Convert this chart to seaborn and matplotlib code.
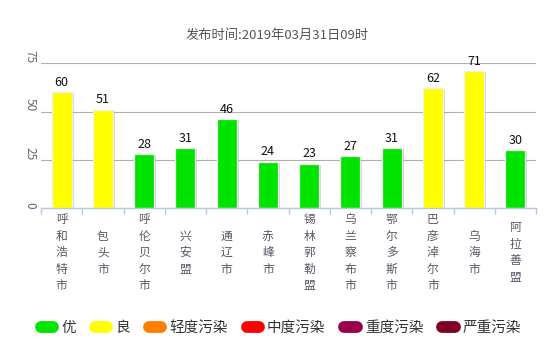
import matplotlib
matplotlib.use("Agg")
import matplotlib.pyplot as plt
import matplotlib.patheffects as pe
from matplotlib.lines import Line2D
import seaborn as sns
import pandas as pd

cities = ['呼和浩特市', '包头市', '呼伦贝尔市', '兴安盟', '通辽市', '赤峰市',
          '锡林郭勒盟', '乌兰察布市', '鄂尔多斯市', '巴彦淖尔市', '乌海市', '阿拉善盟']
aqi = [60, 51, 28, 31, 46, 24, 23, 27, 31, 62, 71, 30]
levels = ['良', '良', '优', '优', '优', '优', '优', '优', '优', '良', '良', '优']
legend_names = ['优', '良', '轻度污染', '中度污染', '重度污染', '严重污染']
legend_colors = ['#00e400', '#ffff00', '#ff7e00', '#ff0000', '#99004c', '#7e0023']
y_ticks = [0, 25, 50, 75]
title = '发布时间:2019年03月31日09时'

sns.set_theme(style='white')
plt.rcParams['font.family'] = ['Noto Sans CJK SC', 'DejaVu Sans']

level_color = dict(zip(legend_names, legend_colors))
df = pd.DataFrame({'city': cities, 'aqi': aqi, 'level': levels})

fig = plt.figure(figsize=(5.52, 3.49), dpi=100)
ax = fig.add_axes([41 / 552, 1 - 208.3 / 349, (536 - 41) / 552, 145 / 349])

sns.barplot(data=df, x='city', y='aqi', hue='level', palette=level_color,
            dodge=False, width=0.48, legend=False, ax=ax, saturation=1,
            edgecolor='#f0f0f0', linewidth=0.9, zorder=3)

for p in ax.patches:
    p.set_path_effects([pe.SimplePatchShadow(offset=(1.6, -0.8), shadow_rgbFace='#888888', alpha=0.35),
                        pe.Normal()])

for c in ax.containers:
    ax.bar_label(c, fmt='%d', padding=2.5, fontsize=9, color='#111111')

ax.set_ylim(0, 75)
ax.set_xlim(-0.5, len(cities) - 0.5)
ax.set_yticks(y_ticks)
ax.set_yticklabels([str(v) for v in y_ticks])
ax.grid(axis='y', color='#b0b0b0', linewidth=0.8, zorder=0)
ax.grid(axis='x', visible=False)
for s in ['left', 'right', 'top']:
    ax.spines[s].set_visible(False)
ax.spines['bottom'].set_color('#b7c7dc')
ax.spines['bottom'].set_linewidth(1)
ax.spines['bottom'].set_zorder(4)

ax.tick_params(axis='y', length=0, pad=3, labelsize=8.5, labelcolor='#666666')
for lbl in ax.get_yticklabels():
    lbl.set_rotation(-90)
    lbl.set_va('bottom')
    lbl.set_ha('right')

ax.set_xticks(range(len(cities)))
ax.set_xticklabels(['\n'.join(c) for c in cities])
ax.set_xticks([i - 0.5 for i in range(len(cities) + 1)], minor=True)
ax.tick_params(axis='x', which='major', length=0, pad=32, labelsize=8.5, labelcolor='#5a5566')
ax.tick_params(axis='x', which='minor', length=4, width=1, color='#b7c7dc', bottom=True)
for lbl in ax.get_xticklabels():
    lbl.set_va('center')
    lbl.set_linespacing(1.35)
ax.set_xlabel('')
ax.set_ylabel('')

fig.text(0.502, 1 - 35 / 349, title, ha='center', va='center', fontsize=9.5, color='#555555')

handles = [Line2D([0, 1], [0, 0], color=c, lw=8.5, solid_capstyle='round') for c in legend_colors]
fig.legend(handles, legend_names, loc='center', bbox_to_anchor=(281 / 552, 1 - 328 / 349),
           ncol=6, frameon=False, fontsize=10.5, handlelength=0.85, handletextpad=0.55,
           columnspacing=1.3, labelcolor='#333333', borderpad=0, borderaxespad=0)

fig.savefig('out.png', dpi=100)
